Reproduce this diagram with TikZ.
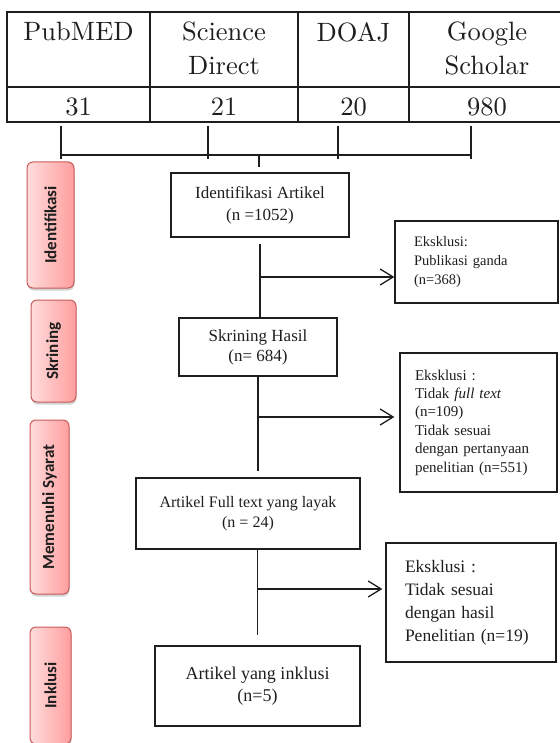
\documentclass[tikz,border=0pt]{standalone}
\usepackage{fontspec}
\newfontfamily\timesf{Liberation Serif}
\newfontfamily\calibf{Carlito}
\newfontfamily\tabf{lmroman10-regular}[Extension=.otf]
\usetikzlibrary{arrows.meta,shadows,calc}
\definecolor{phaseL}{HTML}{FFDCDC}
\definecolor{phaseR}{HTML}{FF9E9E}
\definecolor{phaseB}{HTML}{C95A5A}
\definecolor{ink}{HTML}{1E1E1E}
\begin{document}
\begin{tikzpicture}[x=1pt,y=-1pt,
  tline/.style={line width=1.2pt, draw=ink},
  hdr/.style={font=\tabf\fontsize{26.5}{34}\selectfont, align=center, inner sep=0pt, anchor=north, text=ink},
  num/.style={font=\tabf\fontsize{26.5}{34}\selectfont, inner sep=0pt, anchor=base, text=ink},
  flowbox/.style={draw=ink, line width=1.3pt, align=center, inner sep=0pt, text=ink},
  exclbox/.style={draw=ink, line width=1.3pt, align=left, inner ysep=0pt, text=ink},
  conn/.style={line width=1.3pt, draw=ink},
  arr/.style={conn, -{Straight Barb[length=13pt,width=16pt,line width=1.3pt]}},
  phase/.style={rounded corners=6pt, draw=phaseB, line width=1pt, left color=phaseL, right color=phaseR,
    drop shadow={shadow xshift=0.5pt, shadow yshift=-2.5pt, opacity=0.35},
    inner sep=0pt, font=\calibf\bfseries\fontsize{17}{20}\selectfont, text=ink}
]
\useasboundingbox (0,0) rectangle (559,743);

% table
\draw[tline] (7,12) rectangle (566,122);
\draw[tline] (7,87) -- (566,87);
\foreach \x in {150,298,409} \draw[tline] (\x,12) -- (\x,122);
\node[hdr] (h1) at (78.5,22) {PubMED};
\node[hdr] (h2) at (224,22) {Science\\Direct};
\node[hdr] (h3) at (353.5,22) {DOAJ};
\node[hdr] (h4) at (487,22) {Google\\Scholar};
\node[num] (n1) at (78.5,116) {31};
\node[num] (n2) at (224,116) {21};
\node[num] (n3) at (353.5,116) {20};
\node[num] (n4) at (487,116) {980};

% phase labels
\node[phase, minimum width=47pt, minimum height=126pt] (p1) at (50.5,225) {\rotatebox{90}{Identifikasi}};
\node[phase, minimum width=45pt, minimum height=102pt] (p2) at (53.5,351) {\rotatebox{90}{Skrining}};
\node[phase, minimum width=39pt, minimum height=174pt] (p3) at (49.5,507) {\rotatebox{90}{Memenuhi Syarat}};
\node[phase, minimum width=41pt, minimum height=117pt] (p4) at (50.5,685.5) {\rotatebox{90}{Inklusi}};

% main boxes
\node[flowbox, minimum width=178pt, minimum height=64pt, font=\timesf\fontsize{17}{22}\selectfont] (ident) at (260,205) {Identifikasi Artikel\\(n =1052)};
\node[flowbox, minimum width=158pt, minimum height=58pt, font=\timesf\fontsize{17}{20}\selectfont] (skr) at (258,347) {Skrining Hasil\\(n= 684)};
\node[flowbox, minimum width=224pt, minimum height=71pt, font=\timesf\fontsize{16}{20}\selectfont] (full) at (248,513.5) {Artikel Full text yang layak\\(n = 24)};
\node[flowbox, minimum width=205pt, minimum height=80pt, font=\timesf\fontsize{18}{22}\selectfont] (inkl) at (257.5,686) {Artikel yang inklusi\\(n=5)};

% exclusion boxes
\node[exclbox, text width=125pt, inner xsep=19pt, minimum height=82pt, font=\timesf\fontsize{14.5}{19}\selectfont] (ex1) at (476.5,262) {Eksklusi:\\Publikasi ganda\\(n=368)};
\node[exclbox, text width=127pt, inner xsep=15pt, minimum height=139pt, font=\timesf\fontsize{15}{18.4}\selectfont] (ex2) at (478.5,422.5) {Eksklusi :\\Tidak \textit{full text}\\(n=109)\\Tidak sesuai\\dengan pertanyaan\\penelitian (n=551)};
\node[exclbox, text width=132pt, inner xsep=19pt, minimum height=119pt, font=\timesf\fontsize{17.5}{23}\selectfont] (ex3) at (471,602.5) {Eksklusi :\\Tidak sesuai\\dengan hasil\\Penelitian (n=19)};

% top connectors
\coordinate (t1) at (61,126);
\coordinate (t2) at (208,126);
\coordinate (t3) at (338,126);
\coordinate (t4) at (471,126);
\foreach \t in {t1,t2,t3,t4} \draw[conn] (\t) -- ++(0,33);
\coordinate (bl) at (61,155);
\coordinate (br) at (471,155);
\coordinate (bm) at (259,155);
\draw[conn] (bl) -- (br);
\draw[conn, shorten >=5pt] (bm) -- (bm |- ident.north);

% flow connectors
\draw[conn, shorten <=6pt] (ident.south) -- (ident.south |- skr.north);
\coordinate (b1) at (260,277);
\draw[arr] (b1) -- (b1 -| ex1.west);
\draw[conn, shorten >=6pt] (skr.south) -- (skr.south |- full.north);
\coordinate (b2) at (258,417);
\draw[arr, shorten >=5pt] (b2) -- (b2 -| ex2.west);
\draw[conn, shorten >=10pt] (full.south -| inkl.north) -- (inkl.north);
\coordinate (b3) at (257.5,589);
\draw[arr, shorten >=3pt] (b3) -- (b3 -| ex3.west);
\end{tikzpicture}
\end{document}
